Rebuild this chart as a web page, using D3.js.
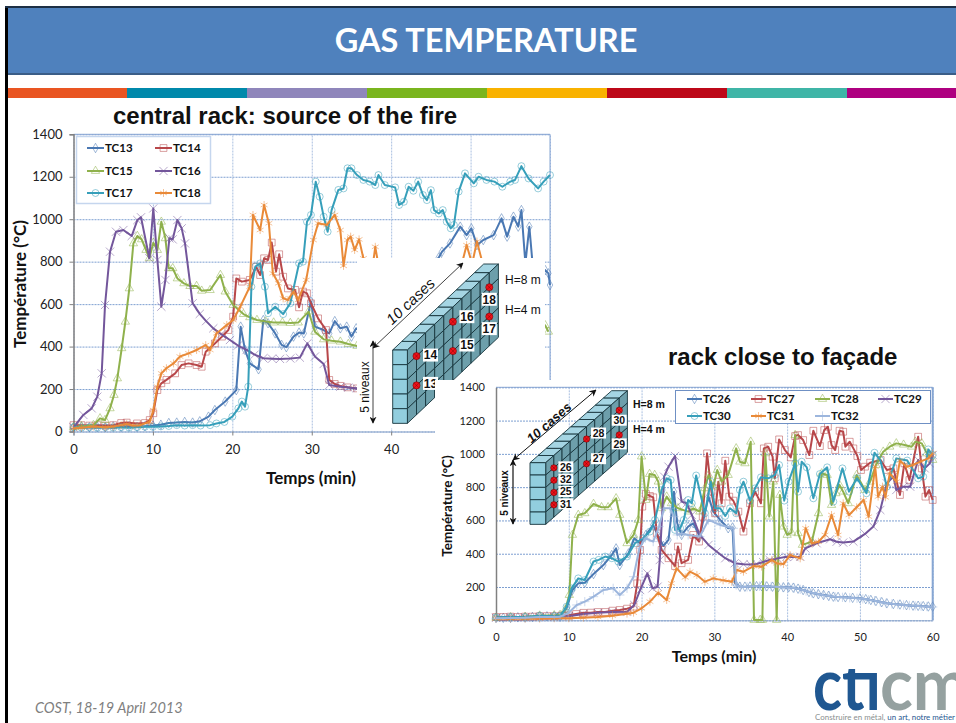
<!DOCTYPE html>
<html>
<head>
<meta charset="utf-8">
<script src="https://cdn.jsdelivr.net/npm/d3@7"></script>
<style>
	html, body { margin: 0; padding: 0; background: #fff; }
	svg { display: block; }
	text { font-family: Lato, sans-serif; }
	.arial { font-family: "Liberation Sans", sans-serif; }
</style>
</head>
<body>
<div id="chartDiv"></div>
<script>
// central rack, [minutes, temperature]
var tc13 = [[0,20],[1,22],[2,20],[3,22],[4,20],[5,24],[6,22],[7,25],[8,22],[9,25],[10,28],[11,32],[12,40],[13,42],[14,45],[15,42],[15.9,48],[17,70],[17.8,101],[19.1,141],[20.5,195],[21.05,494],[21.6,384],[22.2,321],[23.3,293],[23.9,525],[24.5,510],[25.4,462],[26.2,408],[26.8,397],[27.7,447],[28.4,466],[29,462],[29.9,612],[30.4,494],[31.5,478],[32.2,462],[32.9,520],[33.6,486],[34.4,494],[35,447],[35.6,486],[36.5,470],[38,500],[40,560],[42,650],[44,740],[46,820],[46.4,847],[47.4,886],[48.7,965],[49.5,925],[50.1,957],[50.8,878],[51.6,902],[52.9,925],[53.9,1004],[54.6,918],[55.4,1012],[56,965],[56.4,1043],[56.9,792],[57.4,965],[57.8,792],[58.5,700],[59.4,760],[59.8,745],[60,690]];
var tc14 = [[0,30],[1,30],[2,28],[3,30],[4,28],[5,30],[6,40],[6.7,42],[8,38],[9,40],[9.6,54],[10.05,86],[10.56,195],[11.06,227],[11.7,243],[12.8,274],[13.6,313],[14.5,321],[15.5,313],[16.14,305],[16.65,376],[17.8,415],[18.7,447],[19.5,478],[20.1,541],[20.5,721],[21.2,706],[22.2,714],[23,776],[23.5,737],[24,816],[24.5,808],[24.96,890],[25.5,753],[25.9,835],[26.4,729],[27,674],[27.9,667],[28.4,585],[28.9,659],[29.4,651],[29.9,604],[30.8,533],[31.8,478],[32.2,243],[32.9,224],[33.6,215],[34.5,208],[35.7,203],[36.5,200]];
var tc15 = [[0,20],[1,25],[2.5,30],[3.34,62],[3.97,54],[4.6,109],[5.1,172],[5.52,250],[6.07,392],[6.53,517],[7.03,674],[7.54,886],[8.04,921],[8.58,905],[9.13,855],[9.55,816],[10.05,889],[10.56,855],[11.06,988],[11.57,910],[11.98,769],[12.49,769],[13.08,721],[13.9,698],[14.67,685],[15.5,685],[16.14,663],[17.2,666],[18.5,737],[19.1,659],[20.1,596],[21.4,553],[22.2,538],[23.1,525],[24.2,518],[25.2,513],[26.3,513],[27.3,511],[28.3,513],[29.6,565],[30.4,470],[31.5,434],[32.5,428],[33.6,423],[34.6,412],[35.7,403],[37,395],[45,420],[55,460],[59.4,500],[59.8,470]];
var tc16 = [[0,20],[1.24,78],[2.29,109],[3,164],[3.55,274],[3.97,596],[4.6,847],[5.35,941],[6.28,949],[7.33,921],[8.04,996],[8.5,1009],[9.55,816],[10.05,1051],[10.56,808],[11.06,588],[11.57,714],[12.07,910],[12.49,905],[13.08,996],[13.62,957],[14.04,886],[15,604],[15.9,554],[16.7,520],[17.6,486],[18.6,458],[19.7,431],[20.7,405],[21.8,384],[22.8,362],[23.9,345],[25,343],[26,342],[27.3,344],[28.5,348],[29.45,415],[30.4,353],[31.5,318],[32.2,219],[33.6,211],[34.6,207],[35.7,203],[36.5,200]];
var tc17 = [[0,20],[1,18],[2,20],[3,18],[4,20],[5,18],[6,20],[7,18],[8,20],[9,22],[10,22],[11,24],[12,26],[13,30],[14,28],[15,30],[16,28],[17.2,30],[18,38],[19,45],[20,70],[20.76,109],[21.2,141],[21.6,117],[22,211],[22.4,682],[22.9,777],[23.5,792],[24.1,682],[24.5,557],[25.4,588],[26.4,553],[27.3,604],[28.4,792],[28.9,800],[29.4,988],[29.9,1020],[30.5,1177],[31,1106],[31.5,1012],[32,941],[32.5,1043],[33.35,1138],[34,1145],[34.5,1240],[35,1240],[35.7,1208],[36.5,1185],[37.3,1177],[38,1161],[38.4,1208],[39.2,1161],[40.5,1150],[41,1067],[41.6,1082],[42.2,1153],[42.8,1134],[43.4,1177],[44,1114],[44.5,1090],[45,1137],[45.4,1043],[46,1027],[46.5,1043],[47,988],[47.5,957],[47.9,973],[48.5,1130],[49.3,1216],[50.4,1169],[51,1200],[52,1185],[53,1177],[54,1153],[55,1177],[55.6,1185],[56.4,1250],[57.3,1192],[58.5,1145],[59.2,1177],[60,1208]];
var tc18 = [[0,15],[1,18],[2.5,23],[4,20],[5,23],[6,30],[6.7,35],[7.5,28],[8.4,30],[9.6,46],[10.05,101],[10.56,211],[11.06,274],[11.7,298],[12.6,321],[13.4,353],[14.5,368],[15.5,384],[16.65,407],[17.2,384],[18,462],[19.3,502],[20.1,525],[21,588],[22.2,682],[22.6,1020],[23.5,949],[24,1067],[24.6,981],[25.1,745],[25.8,698],[26.4,627],[27,620],[27.7,659],[28.3,620],[29.3,714],[30.2,902],[30.8,981],[31.9,973],[32.9,1020],[33.6,949],[34,780],[34.5,902],[34.9,918],[35.4,855],[35.96,905],[36.5,816],[37,700],[37.6,760],[38,870],[38.5,760],[39.5,700],[44,680],[48,700],[48.9,790],[49.5,878],[50.2,790],[50.8,895],[51.6,780],[53,700]];

// rack close to the facade, [minutes, temperature]
var tc26 = [[0,15],[1,15],[2,15],[3,18],[4,18],[5,20],[6,22],[7,24],[8,25],[8.8,22],[9.7,72],[10.5,182],[11.3,222],[12.2,226],[13.4,278],[14.75,332],[15.9,392],[16.5,432],[17,332],[18.2,402],[19,493],[19.8,463],[20.6,513],[21.6,573],[22.3,503],[23,447],[23.7,483],[24.45,773],[24.9,583],[25.5,513],[26.4,563],[27.1,583],[28,503],[29.2,743],[29.85,653],[30.8,603],[31.9,553],[32.5,558],[32.85,222],[33.5,202],[34.2,202],[34.9,203],[35.8,205],[36.5,205],[37.2,204],[38,202],[38.8,200],[39.5,198],[40.2,198],[40.85,196],[41.5,190],[42.2,182],[43,170],[43.6,162],[44.3,157],[45,152],[45.7,147],[46.35,142],[47,140],[48,138],[49,135],[50,132],[50.8,127],[51.5,122],[52.2,116],[53,109],[53.7,102],[54.6,98],[55.5,95],[56.4,91],[57.3,88],[58,87],[58.7,85],[59.4,83],[60,82]];
var tc27 = [[0,20],[1,20],[2,22],[3,20],[4,22],[5,22],[6,25],[7,25],[8,25],[9,28],[10,30],[11,38],[12,45],[13,46],[14,50],[15,50],[16,58],[17,62],[18,70],[18.9,82],[19.4,222],[19.8,423],[20.1,683],[20.6,759],[21.15,747],[21.6,739],[22.1,523],[22.75,423],[23.7,373],[24.6,326],[25,443],[25.5,343],[26.4,363],[27.1,513],[27.9,473],[28.4,623],[29,1003],[29.6,773],[30.1,643],[30.55,833],[31,703],[31.5,959],[32.05,743],[32.6,719],[33.3,653],[34,533],[34.9,703],[35.6,773],[36.4,703],[36.8,1033],[37.4,1043],[38,983],[38.3,853],[38.9,1087],[39.7,1023],[40.5,979],[41.1,1107],[41.5,1113],[42.2,1083],[43.05,993],[43.6,1139],[44.5,1047],[45.1,1143],[45.6,1163],[46.1,1053],[46.6,1023],[47.2,1139],[47.7,1133],[48,1043],[48.6,1073],[49.1,1033],[49.65,987],[50.15,903],[50.7,923],[51.4,947],[52.85,963],[53.7,903],[54.6,913],[55.5,753],[56.1,943],[56.8,843],[58,1103],[58.5,913],[59,743],[59.5,783],[60,723]];
var tc28 = [[0,15],[2,18],[4,20],[6,28],[8,30],[8.8,32],[9.5,62],[10.07,152],[10.5,513],[11.3,633],[12.2,643],[13.4,699],[14.5,679],[15.4,679],[16.5,733],[17,633],[18,463],[18.9,513],[19.55,603],[20,984],[20.6,723],[21.1,879],[21.8,873],[22.3,833],[22.75,673],[23.45,743],[24.1,703],[25,673],[26.4,653],[27.1,673],[28,653],[28.7,793],[29.2,873],[29.85,803],[30.4,903],[31,833],[31.9,873],[33,1033],[33.5,953],[34.2,943],[35,1073],[35.45,2],[36.3,2],[36.6,2],[37,1003],[37.55,623],[38.1,833],[38.56,2],[39,753],[39.5,563],[40,513],[40.6,527],[41.1,1113],[41.5,523],[42.1,453],[43.4,473],[44.3,643],[44.75,883],[45.5,873],[46.1,693],[46.7,763],[47.2,813],[47.7,773],[48.4,703],[49.55,873],[50.7,783],[51.4,833],[52.2,933],[53.2,1013],[54.1,1043],[55,1063],[56,1055],[57.1,1043],[57.6,1073],[58.5,1063],[59.2,1003],[60,963]];
var tc29 = [[0,15],[2,18],[4,18],[6,20],[8,22],[10,25],[12,38],[14,45],[16,50],[18,52],[19,92],[19.8,182],[20.8,282],[21.5,192],[22.2,202],[22.5,362],[23.1,863],[23.7,923],[24.6,987],[25.5,713],[26.2,703],[26.9,633],[28,513],[29.2,453],[30.3,413],[31.5,373],[32.8,343],[34,337],[35,335],[35.8,338],[36.7,350],[37.6,362],[38.7,372],[39.9,382],[41,380],[41.8,382],[42.5,432],[44.05,463],[45.9,487],[46.8,472],[47.7,467],[49.1,473],[50.7,519],[51.85,563],[52.8,663],[53.7,823],[54.6,863],[55,783],[56,803],[56.9,803],[58,963],[58.9,913],[59.6,943],[60,993]];
var tc30 = [[0,18],[2,20],[4,20],[6,28],[8,25],[8.8,25],[9.7,82],[10.4,192],[11.3,252],[12.2,242],[13.4,353],[14.1,363],[15,383],[15.9,373],[16.8,353],[18,383],[19.1,463],[20.2,493],[21.15,533],[21.85,603],[22.75,783],[23.45,853],[24,843],[24.6,543],[25.3,553],[25.8,603],[26.4,723],[26.9,703],[27.5,870],[28.7,643],[29.5,833],[30.1,673],[30.8,673],[31.5,627],[32.15,673],[33,643],[33.5,783],[34,833],[34.9,719],[35.6,793],[36.4,859],[37.4,853],[38.3,873],[38.9,933],[39.6,719],[40.2,833],[41.1,943],[41.5,773],[42,953],[42.7,919],[43.6,733],[44.5,879],[45.5,919],[46.35,713],[47.6,913],[48.5,773],[49.6,853],[50.9,763],[52,1007],[52.8,963],[53.7,803],[55,973],[56.5,960],[58,853],[58.7,863],[59.4,1027],[60,993]];
var tc31 = [[0,10],[2,10],[4,10],[6,10],[8,12],[10,12],[12,16],[14,20],[16,28],[18,40],[18.9,46],[20,72],[21.15,112],[22.3,166],[23.45,122],[24.1,222],[24.8,312],[26,258],[26.65,292],[27.6,272],[28.7,232],[29.85,252],[31.2,240],[32.4,232],[33.1,302],[34,292],[35.4,326],[36.5,322],[37.9,362],[38.6,342],[39.5,338],[40.4,392],[41.8,372],[42.55,553],[43.4,463],[44.3,472],[45.2,513],[46.1,633],[47,513],[47.7,703],[48.5,633],[49.55,679],[50.5,723],[51.2,623],[52.1,923],[52.5,743],[53.1,803],[53.5,739],[54.1,883],[55,833],[55.5,959],[56.4,923],[57.3,933],[58.3,953],[59.4,973],[60,1003]];
var tc32 = [[0,12],[2,14],[4,15],[6,20],[8,20],[8.8,22],[9.9,42],[11.1,92],[12.2,112],[13.4,142],[14.75,182],[16.1,192],[17,152],[18,192],[18.9,262],[19.7,433],[20.5,493],[21.6,473],[22.4,563],[23.1,673],[23.9,673],[24.45,623],[24.9,513],[25.5,522],[26.4,513],[28,503],[29.2,603],[30.8,573],[32.6,553],[33,212],[33.6,200],[34.5,201],[35.4,204],[36.2,205],[37,205],[37.8,203],[38.6,201],[39.4,199],[40.2,197],[41,194],[41.8,186],[42.6,176],[43.4,165],[44.2,158],[45,151],[45.8,146],[46.6,141],[47.6,138],[48.6,135],[49.6,132],[50.4,129],[51.2,124],[52,118],[52.8,110],[53.6,103],[54.4,99],[55.2,95],[56,92],[56.8,89],[57.6,87],[58.4,85],[59.2,83],[60,80]];

var xTicks = [0, 10, 20, 30, 40, 50, 60];
var yTicks = [0, 200, 400, 600, 800, 1000, 1200, 1400];

var names1 = ["TC13", "TC14", "TC15", "TC16", "TC17", "TC18"];
var names2 = ["TC26", "TC27", "TC28", "TC29", "TC30", "TC31", "TC32"];

var bandColors = ["#e95522", "#0089ab", "#8f86bb", "#7ab51e", "#f9b200", "#bd0819", "#3fb5a7", "#ae0080"];
var bandEdges = [8, 127, 247, 367, 487, 607, 727, 847, 956];

var svg = d3.select("#chartDiv").append("svg")
	.attr("width", 956)
	.attr("height", 723);

// slide frame, header and colour band
svg.append("rect").attr("x", 5).attr("y", 6).attr("width", 3).attr("height", 717).attr("fill", "#000");
svg.append("rect").attr("x", 5).attr("y", 6).attr("width", 951).attr("height", 2).attr("fill", "#1d2f45");
svg.append("rect").attr("x", 8).attr("y", 8).attr("width", 948).attr("height", 65).attr("fill", "#4f81bd");
svg.append("rect").attr("x", 8).attr("y", 73).attr("width", 948).attr("height", 2).attr("fill", "#3a5d87");
svg.append("text").attr("x", 486).attr("y", 52).attr("text-anchor", "middle")
	.attr("font-size", 32.5).attr("font-weight", 700).attr("fill", "#fff").text("GAS TEMPERATURE");

svg.selectAll(".band").data(bandColors).enter().append("rect")
	.attr("class", "band")
	.attr("x", function(d, i) { return bandEdges[i]; })
	.attr("y", 88)
	.attr("width", function(d, i) { return bandEdges[i + 1] - bandEdges[i]; })
	.attr("height", 10)
	.attr("fill", function(d) { return d; });

svg.append("text").attr("class", "arial").attr("x", 113).attr("y", 124)
	.attr("font-size", 24).attr("font-weight", 700).attr("fill", "#111").text("central rack: source of the fire");

// marker shapes per series, d3 symbol + size
var marks = {
	diamond: d3.symbol().type(d3.symbolDiamond).size(26),
	square: d3.symbol().type(d3.symbolSquare).size(46),
	triangle: d3.symbol().type(d3.symbolTriangle).size(30),
	times: d3.symbol().type(d3.symbolTimes).size(46),
	circle: d3.symbol().type(d3.symbolCircle).size(38),
	star: d3.symbol().type(d3.symbolAsterisk).size(44),
	plus: d3.symbol().type(d3.symbolPlus).size(30)
};
var lineColor = { blue: "#4a78b3", red: "#b8474a", green: "#8fb14c", purple: "#73569b", teal: "#369fba", orange: "#e98a38", pale: "#9db6dd" };

function drawChart(opt) {
	var x = d3.scaleLinear().domain([0, 60]).range(opt.xRange);
	var y = d3.scaleLinear().domain([0, 1400]).range(opt.yRange);
	var g = svg.append("g");
	var left = opt.xRange[0], right = opt.xRange[1], bottom = opt.yRange[0], top = opt.yRange[1];

	// grid comes from the axes
	g.append("g").attr("transform", "translate(" + left + ",0)")
		.call(d3.axisLeft(y).tickValues(yTicks).tickSize(-(right - left)).tickFormat(""))
		.call(function(s) {
			s.select(".domain").remove();
			s.selectAll("line").attr("stroke", "#7d9fd1").attr("stroke-dasharray", "2,1");
		});
	g.append("g").attr("transform", "translate(0," + bottom + ")")
		.call(d3.axisBottom(x).tickValues(xTicks).tickSize(bottom - top).tickFormat(""))
		.call(function(s) {
			s.select(".domain").remove();
			s.selectAll("line").attr("stroke", "#a9bfe0").attr("stroke-dasharray", "2,1")
				.attr("y2", -(bottom - top));
		});

	// frame
	g.append("line").attr("x1", left).attr("x2", right).attr("y1", top).attr("y2", top).attr("stroke", "#87a6d3");
	g.append("line").attr("x1", right).attr("x2", right).attr("y1", top).attr("y2", bottom).attr("stroke", "#87a6d3").attr("stroke-width", opt.rightWidth);

	// tick labels
	g.append("g").attr("transform", "translate(" + left + ",0)")
		.call(d3.axisLeft(y).tickValues(yTicks).tickSize(opt.tick).tickPadding(opt.pad).tickFormat(d3.format("d")))
		.call(function(s) {
			s.select(".domain").attr("stroke", "#808080").attr("stroke-width", 1.5);
			s.selectAll("line").attr("stroke", "#808080");
			s.selectAll("text").attr("font-family", "Lato").attr("font-size", opt.tickFont).attr("fill", "#222");
		});
	g.append("g").attr("transform", "translate(0," + bottom + ")")
		.call(d3.axisBottom(x).tickValues(opt.shownX).tickSize(opt.tick).tickPadding(opt.xPad))
		.call(function(s) {
			s.select(".domain").attr("stroke", "#90a8cc");
			s.selectAll("line").attr("stroke", "#808080");
			s.selectAll("text").attr("font-family", "Lato").attr("font-size", opt.tickFont).attr("fill", "#222");
		});

	var line = d3.line()
		.x(function(d) { return x(d[0]); })
		.y(function(d) { return y(d[1]); });

	// series lines and their markers
	opt.series.forEach(function(s) {
		g.append("path")
			.attr("d", line(s.values))
			.attr("fill", "none")
			.attr("stroke", s.color)
			.attr("stroke-width", 2)
			.attr("stroke-linejoin", "round");
		g.selectAll(null).data(s.values).enter().append("path")
			.attr("d", marks[s.mark]())
			.attr("transform", function(d) { return "translate(" + x(d[0]) + "," + y(d[1]) + ")"; })
			.attr("fill", "none")
			.attr("stroke", s.color)
			.attr("stroke-opacity", 0.65)
			.attr("stroke-width", 0.8);
	});
	return g;
}

function drawLegend(g, opt) {
	g.append("rect").attr("x", opt.x).attr("y", opt.y).attr("width", opt.w).attr("height", opt.h)
		.attr("fill", "#fff").attr("stroke", opt.stroke).attr("stroke-width", opt.strokeW);
	opt.series.forEach(function(s, i) {
		var col = i % opt.cols, row = Math.floor(i / opt.cols);
		var lx = opt.colX[col], ly = opt.rowY[row];
		g.append("line").attr("x1", lx).attr("x2", lx + opt.len).attr("y1", ly).attr("y2", ly)
			.attr("stroke", s.color).attr("stroke-width", 2);
		g.append("path").attr("d", marks[s.mark]())
			.attr("transform", "translate(" + (lx + opt.len / 2) + "," + ly + ")")
			.attr("fill", "none").attr("stroke", s.color).attr("stroke-opacity", 0.65).attr("stroke-width", 0.8);
		g.append("text").attr("x", lx + opt.len + 1).attr("y", ly + 4)
			.attr("font-size", opt.font).attr("font-weight", 700).attr("fill", "#111").text(s.name);
	});
}

// stack of cases seen in perspective, cases and levels counted from the front corner
function drawWall(g, w) {
	function pt(c, l, side) {
		return [w.x + w.w * (side || 0) + c * w.dx, w.y + l * w.h + c * w.dy];
	}
	function poly(points, fill) {
		g.append("polygon")
			.attr("points", points.map(function(p) { return p.join(","); }).join(" "))
			.attr("fill", fill).attr("stroke", "#16343c").attr("stroke-width", w.lw);
	}
	for (var c = 0; c < w.cases; c++) {
		poly([pt(c, 0, 0), pt(c, 0, 1), pt(c + 1, 0, 1), pt(c + 1, 0, 0)], "#a5d5e3");
		for (var l = 0; l < w.levels; l++) {
			poly([pt(c, l, 1), pt(c + 1, l, 1), pt(c + 1, l + 1, 1), pt(c, l + 1, 1)], "#6d9fab");
		}
	}
	for (var k = 0; k < w.levels; k++) {
		poly([pt(0, k, 0), pt(0, k, 1), pt(0, k + 1, 1), pt(0, k + 1, 0)], "#92cede");
	}
	// thermocouple dots with their white labels
	w.dots.forEach(function(d) {
		var p = pt(d.c, d.l, 1);
		var lx = p[0] + d.ox, ly = p[1] + d.oy;
		g.append("rect").attr("x", lx - w.box[0] / 2).attr("y", ly - w.box[1] / 2)
			.attr("width", w.box[0]).attr("height", w.box[1]).attr("fill", "#fff");
		g.append("text").attr("class", "arial").attr("x", lx).attr("y", ly + w.font * 0.36)
			.attr("text-anchor", "middle").attr("font-size", w.font).attr("font-weight", 700)
			.attr("fill", "#111").text(d.label);
		g.append("circle").attr("cx", p[0]).attr("cy", p[1]).attr("r", w.r)
			.attr("fill", "#ee1019").attr("stroke", "#600").attr("stroke-width", 0.5);
		g.append("path").attr("transform", "translate(" + p[0] + "," + p[1] + ")")
			.attr("d", d3.symbol().type(d3.symbolTimes).size(w.r * w.r * 1.6)())
			.attr("fill", "none").attr("stroke", "#600").attr("stroke-width", 0.4);
	});
}

function arrow(g, x1, y1, x2, y2, width, id) {
	g.append("line").attr("x1", x1).attr("y1", y1).attr("x2", x2).attr("y2", y2)
		.attr("stroke", "#111").attr("stroke-width", width)
		.attr("marker-start", "url(#" + id + ")").attr("marker-end", "url(#" + id + ")");
}
var defs = svg.append("defs");
defs.append("marker").attr("id", "head").attr("viewBox", "0 -5 10 10").attr("refX", 9).attr("refY", 0)
	.attr("orient", "auto-start-reverse").attr("markerWidth", 7).attr("markerHeight", 7).attr("markerUnits", "userSpaceOnUse")
	.append("path").attr("d", "M0,-5L10,0L0,5L3,0Z").attr("fill", "#111");
defs.append("clipPath").attr("id", "logoClip").append("rect")
	.attr("x", 800).attr("y", 669).attr("width", 156).attr("height", 44);

// left chart
var series1 = [
	{ name: names1[0], values: tc13, color: lineColor.blue, mark: "diamond" },
	{ name: names1[1], values: tc14, color: lineColor.red, mark: "square" },
	{ name: names1[2], values: tc15, color: lineColor.green, mark: "triangle" },
	{ name: names1[3], values: tc16, color: lineColor.purple, mark: "times" },
	{ name: names1[4], values: tc17, color: lineColor.teal, mark: "circle" },
	{ name: names1[5], values: tc18, color: lineColor.orange, mark: "star" }
];
var g1 = drawChart({
	xRange: [73.5, 550], yRange: [431.5, 134.3], series: series1,
	shownX: [0, 10, 20, 30, 40, 50], tick: 4, pad: 7, xPad: 9, tickFont: 13, rightWidth: 1
});
drawLegend(g1, {
	x: 76.5, y: 136.5, w: 134, h: 67, stroke: "#c5d6ee", strokeW: 1.5, series: series1, cols: 2,
	colX: [87, 155], rowY: [148, 171, 193], len: 17, font: 11.5
});
g1.append("text").attr("x", 311).attr("y", 484).attr("text-anchor", "middle")
	.attr("font-size", 17).attr("font-weight", 700).attr("fill", "#111").text("Temps (min)");
g1.append("text").attr("transform", "translate(26,284) rotate(-90)").attr("text-anchor", "middle")
	.attr("font-size", 17).attr("font-weight", 700).attr("fill", "#111").text("Température (°C)");

// left inset hides part of the curves
svg.append("rect").attr("x", 357).attr("y", 258).attr("width", 188).attr("height", 170).attr("fill", "#fff");
var inset1 = svg.append("g");
drawWall(inset1, {
	x: 392.7, y: 350, w: 14.7, h: 14.67, dx: 9.1, dy: -8.6, cases: 10, levels: 5, lw: 0.9,
	box: [15, 13], font: 12, r: 3.6,
	dots: [
		{ c: 1, l: 1, ox: 14, oy: -1, label: "14" },
		{ c: 1, l: 3, ox: 14, oy: -2, label: "13" },
		{ c: 5, l: 3, ox: 14, oy: -6, label: "15" },
		{ c: 5, l: 1, ox: 14, oy: -5, label: "16" },
		{ c: 9, l: 3, ox: 0, oy: 12, label: "17" },
		{ c: 9, l: 1, ox: 0, oy: 12, label: "18" }
	]
});
arrow(inset1, 373, 348, 463, 263, 0.8, "head");
arrow(inset1, 373, 341, 373, 423, 0.8, "head");
inset1.append("text").attr("class", "arial").attr("transform", "translate(414,305) rotate(-43)")
	.attr("text-anchor", "middle").attr("font-size", 15).attr("font-style", "italic").attr("fill", "#111").text("10 cases");
inset1.append("text").attr("class", "arial").attr("transform", "translate(369,387) rotate(-90)")
	.attr("text-anchor", "middle").attr("font-size", 12).attr("fill", "#111").text("5 niveaux");
inset1.append("text").attr("class", "arial").attr("x", 505).attr("y", 284).attr("font-size", 12).attr("fill", "#111").text("H=8 m");
inset1.append("text").attr("class", "arial").attr("x", 505).attr("y", 314).attr("font-size", 12).attr("fill", "#111").text("H=4 m");

// right chart sits on its own white panel
svg.append("rect").attr("x", 435).attr("y", 380).attr("width", 521).attr("height", 290).attr("fill", "#fff");
svg.append("text").attr("class", "arial").attr("x", 668).attr("y", 365)
	.attr("font-size", 24).attr("font-weight", 700).attr("fill", "#111").text("rack close to façade");

var series2 = [
	{ name: names2[0], values: tc26, color: lineColor.blue, mark: "diamond" },
	{ name: names2[1], values: tc27, color: lineColor.red, mark: "square" },
	{ name: names2[2], values: tc28, color: lineColor.green, mark: "triangle" },
	{ name: names2[3], values: tc29, color: lineColor.purple, mark: "times" },
	{ name: names2[4], values: tc30, color: lineColor.teal, mark: "circle" },
	{ name: names2[5], values: tc31, color: lineColor.orange, mark: "star" },
	{ name: names2[6], values: tc32, color: lineColor.pale, mark: "plus" }
];
var g2 = drawChart({
	xRange: [496, 932.7], yRange: [620.3, 387.3], series: series2,
	shownX: xTicks, tick: 0, pad: 11, xPad: 13, tickFont: 11, rightWidth: 2
});
drawLegend(g2, {
	x: 675.5, y: 390.5, w: 255, h: 33, stroke: "#6f90c4", strokeW: 1, series: series2, cols: 4,
	colX: [687, 751, 815, 878], rowY: [399, 416], len: 15, font: 11.5
});
g2.append("text").attr("x", 714).attr("y", 662).attr("text-anchor", "middle")
	.attr("font-size", 16).attr("font-weight", 700).attr("fill", "#111").text("Temps (min)");
g2.append("text").attr("transform", "translate(452,506) rotate(-90)").attr("text-anchor", "middle")
	.attr("font-size", 13.5).attr("font-weight", 700).attr("fill", "#111").text("Température (°C)");

var inset2 = svg.append("g");
drawWall(inset2, {
	x: 530, y: 462.7, w: 15.7, h: 12.33, dx: 8.17, dy: -7.2, cases: 10, levels: 5, lw: 0.9,
	box: [15, 11], font: 10.5, r: 3.2,
	dots: [
		{ c: 1, l: 1, ox: 12, oy: -1, label: "26" },
		{ c: 1, l: 2, ox: 12, oy: -1, label: "32" },
		{ c: 1, l: 3, ox: 12, oy: -1, label: "25" },
		{ c: 1, l: 4, ox: 12, oy: -1, label: "31" },
		{ c: 5, l: 3, ox: 12, oy: -5, label: "27" },
		{ c: 5, l: 1, ox: 12, oy: -6, label: "28" },
		{ c: 9, l: 3, ox: 0, oy: 9, label: "29" },
		{ c: 9, l: 1, ox: 0, oy: 10, label: "30" }
	]
});
arrow(inset2, 513, 460, 596, 390, 1, "head");
arrow(inset2, 513, 460, 513, 524, 1.2, "head");
inset2.append("text").attr("class", "arial").attr("transform", "translate(552,426) rotate(-41)")
	.attr("text-anchor", "middle").attr("font-size", 13).attr("font-style", "italic").attr("font-weight", 700).attr("fill", "#111").text("10 cases");
inset2.append("text").attr("class", "arial").attr("transform", "translate(508,493) rotate(-90)")
	.attr("text-anchor", "middle").attr("font-size", 10).attr("font-weight", 700).attr("fill", "#111").text("5 niveaux");
inset2.append("text").attr("class", "arial").attr("x", 633).attr("y", 408).attr("font-size", 10.5).attr("font-weight", 700).attr("fill", "#111").text("H=8 m");
inset2.append("text").attr("class", "arial").attr("x", 633).attr("y", 433).attr("font-size", 10.5).attr("font-weight", 700).attr("fill", "#111").text("H=4 m");

// footer
svg.append("text").attr("x", 35).attr("y", 713).attr("font-size", 14.5).attr("font-style", "italic").attr("fill", "#7f7f7f").text("COST, 18-19 April 2013");
var logo = svg.append("g").attr("clip-path", "url(#logoClip)");
logo.append("text").attr("x", 813).attr("y", 710).attr("font-size", 72).attr("font-weight", 700).attr("fill", "#1f5791")
	.attr("textLength", 68).attr("lengthAdjust", "spacingAndGlyphs").text("cti");
logo.append("text").attr("x", 880).attr("y", 710).attr("font-size", 72).attr("font-weight", 700).attr("fill", "#95a1a0")
	.attr("textLength", 90).attr("lengthAdjust", "spacingAndGlyphs").text("cm");
var cap = svg.append("text").attr("x", 815).attr("y", 720).attr("font-size", 8.3)
	.attr("textLength", 140).attr("lengthAdjust", "spacingAndGlyphs");
cap.append("tspan").attr("fill", "#8a8f8f").text("Construire en métal, ");
cap.append("tspan").attr("fill", "#1f5791").text("un art, notre métier");
</script>
</body>
</html>
